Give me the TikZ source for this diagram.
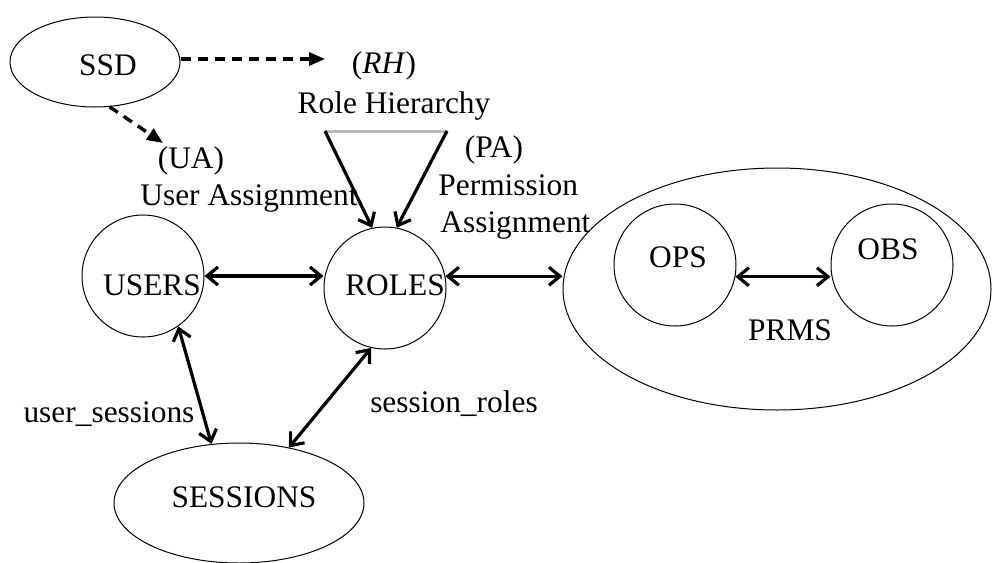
\documentclass[tikz,border=0pt]{standalone}
\usepackage{fontspec}
\setmainfont{Liberation Serif}
\usetikzlibrary{arrows.meta,shapes.geometric}
\begin{document}
\begin{tikzpicture}[x=0.5pt,y=-0.5pt,
  lbl/.style={font=\fontsize{15.7}{18}\selectfont, inner sep=0pt, anchor=base},
  ell/.style={draw, ellipse, line width=0.5pt, inner sep=0pt},
  circ/.style={draw, circle, minimum size=61pt, line width=0.5pt, inner sep=0pt},
  biarrow/.style={line width=1.6pt, {Straight Barb[length=5.5pt,width=9pt]}-{Straight Barb[length=5.5pt,width=9pt]}},
  onearrow/.style={line width=1.6pt, -{Straight Barb[length=5.5pt,width=9pt]}},
  dasharrow/.style={line width=1.7pt, dash pattern=on 5pt off 3.5pt, -{Triangle[length=8pt,width=6.5pt]}},
]
\useasboundingbox (0,0) rectangle (992,563);

% shapes
\node[ell, minimum width=85pt, minimum height=45pt] (ssd) at (95,62) {};
\node[circ] (users) at (143,276) {};
\node[circ] (roles) at (385,288) {};
\node[ell, minimum width=125pt, minimum height=60pt] (sessions) at (239,503) {};
\node[ell, minimum width=214pt, minimum height=121pt] (prms) at (777,289) {};
\node[circ] (ops) at (675,265) {};
\node[circ] (obs) at (892,265) {};

% texts
\node[lbl] (ssdt) at (108,75) {SSD};
\node[lbl] (rh) at (384,73) {(\textit{RH})};
\node[lbl] (rht) at (394,113) {Role Hierarchy};
\node[lbl] (ua) at (191,168) {(UA)};
\node[lbl] (uat) at (249,205) {User Assignment};
\node[lbl] (pa) at (494,157) {(PA)};
\node[lbl, anchor=base west] (pat1) at (438,195) {Permission};
\node[lbl, anchor=base west] (pat2) at (440,232) {Assignment};
\node[lbl] (userst) at (152,295) {USERS};
\node[lbl] (rolest) at (395,295) {ROLES};
\node[lbl] (us) at (109,422) {user\_sessions};
\node[lbl] (sr) at (454,412) {session\_roles};
\node[lbl] (sessionst) at (244,507) {SESSIONS};
\node[lbl] (opst) at (678,267) {OPS};
\node[lbl] (obst) at (888,259) {OBS};
\node[lbl] (prmst) at (790,340) {PRMS};

% coordinates
\coordinate (rhin) at (325,59);
\coordinate (uain) at (163,143);
\coordinate (rh1) at (325,131);
\coordinate (rh2) at (447,131);

% connectors
\draw[dasharrow] (ssd.east |- rhin) -- (rhin);
\draw[dasharrow] (ssd.-72) -- (uain);
\draw[gray!55, line width=1.5pt] (rh1) -- (rh2);
\draw[onearrow] (rh1) -- (roles.102);
\draw[onearrow] (rh2) -- (roles.79);
\draw[biarrow] (users.east) -- (users.east -| roles.west);
\draw[biarrow] (roles.11) -- (roles.11 -| prms.west);
\draw[biarrow] (ops.-11) -- (ops.-11 -| obs.west);
\draw[biarrow] (users.-55) -- (sessions.115);
\draw[biarrow] (sessions.48) -- (roles.-103);
\end{tikzpicture}
\end{document}
